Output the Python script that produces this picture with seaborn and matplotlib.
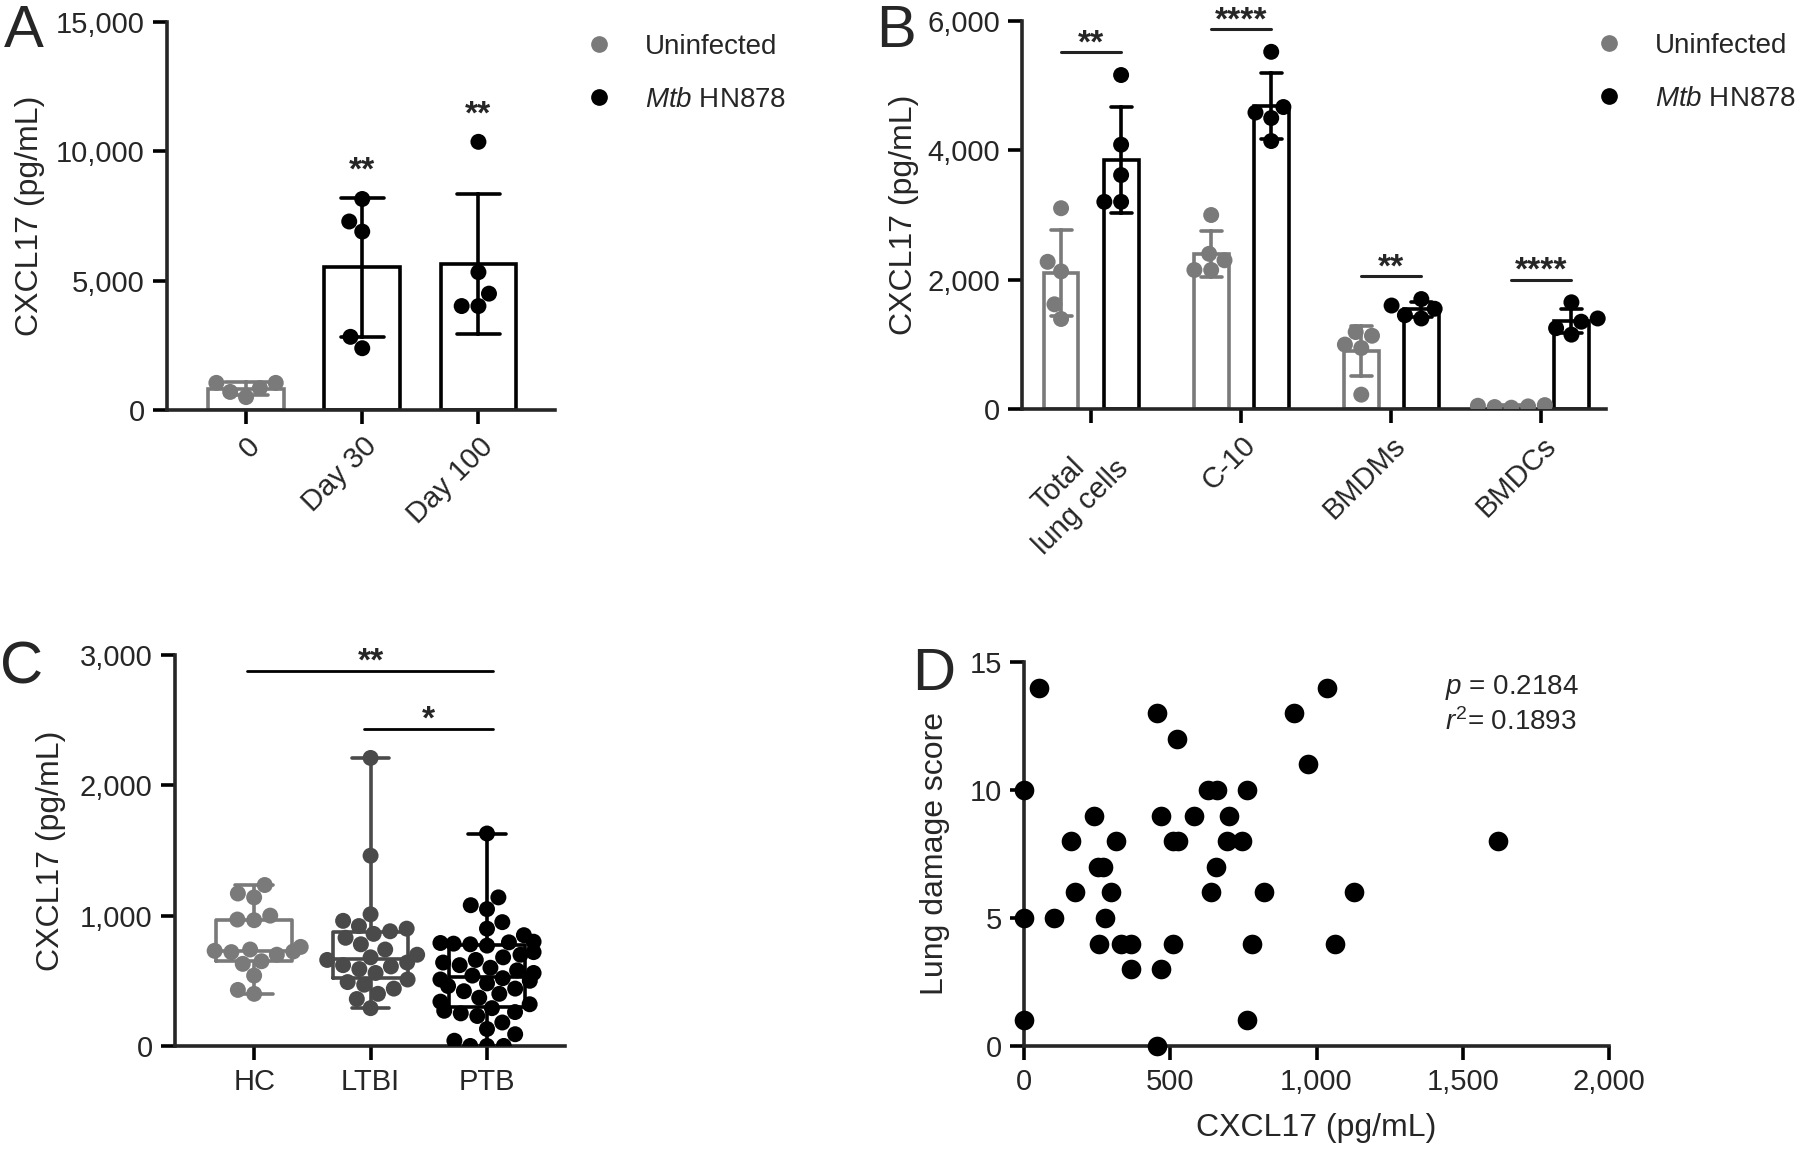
import numpy as np
import pandas as pd
import matplotlib.pyplot as plt
import seaborn as sns
from matplotlib.lines import Line2D
from matplotlib.ticker import StrMethodFormatter

sns.set_style('ticks')
plt.rcParams['font.family'] = ['Liberation Sans', 'DejaVu Sans']
plt.rcParams['mathtext.fontset'] = 'custom'
plt.rcParams['mathtext.rm'] = 'Liberation Sans'
plt.rcParams['mathtext.it'] = 'Liberation Sans:italic'

UNINF = 'Uninfected'
MTB = r'$\it{Mtb}$ HN878'
GREY = '#7a7a7a'

# ---- panel A: CXCL17 in lungs over infection time
a_days = ['0', 'Day 30', 'Day 100']
a_day0 = [700, 1050, 850, 1050, 500]
a_day30 = [8160, 6900, 7290, 2830, 2390]
a_day100 = [10370, 5330, 4500, 4020, 4020]
a_stars = ['', '**', '**']

# ---- panel B: CXCL17 from cell types in vitro
b_cells = ['Total\nlung cells', 'C-10', 'BMDMs', 'BMDCs']
b_total_uninf = [3105, 2128, 2276, 1619, 1392]
b_total_mtb = [5165, 4088, 3618, 3204, 3204]
b_c10_uninf = [3000, 2400, 2300, 2150, 2150]
b_c10_mtb = [5524, 4670, 4585, 4500, 4144]
b_bmdm_uninf = [222, 1133, 996, 943, 1190]
b_bmdm_mtb = [1700, 1600, 1550, 1450, 1400]
b_bmdc_uninf = [30, 50, 60, 40, 20]
b_bmdc_mtb = [1650, 1400, 1350, 1250, 1150]
b_stars = ['**', '****', '**', '****']

# ---- panel C: human plasma CXCL17
c_groups = ['HC', 'LTBI', 'PTB']
c_hc = [1235, 1170, 1140, 1000, 970, 965, 760, 740, 730, 725, 720, 700,
        650, 630, 540, 430, 400]
c_ltbi = [2210, 1460, 1010, 960, 920, 900, 880, 860, 830, 780, 740, 700,
          680, 660, 640, 620, 610, 590, 560, 510, 490, 470, 440, 400, 360, 290]
c_ptb = [0, 0, 0, 40, 90, 130, 180, 230, 250, 260, 270, 290, 320, 340,
         370, 400, 420, 440, 460, 480, 500, 510, 520, 540, 560, 580, 600,
         620, 640, 660, 680, 700, 720, 770, 780, 785, 790, 795, 800, 850,
         900, 950, 1050, 1080, 1140, 1630]

# ---- panel D: CXCL17 vs lung damage
d_cxcl17 = [51, 0, 0, 0, 456, 454, 524, 922, 1035, 970, 630, 660, 762, 238,
            468, 582, 701, 162, 315, 511, 528, 693, 746, 1622, 252, 269, 655,
            174, 298, 638, 820, 1128, 102, 276, 255, 332, 366, 511, 778, 1064,
            366, 468, 761]
d_score = [14, 10, 5, 1, 0, 13, 12, 13, 14, 11, 10, 10, 10, 9, 9, 9, 9, 8, 8,
           8, 8, 8, 8, 8, 7, 7, 7, 6, 6, 6, 6, 6, 5, 5, 4, 4, 4, 4, 4, 4, 3,
           3, 1]

pal_inf = {UNINF: GREY, MTB: 'black'}
pal_c = {'HC': GREY, 'LTBI': '#4a4a4a', 'PTB': 'black'}

LW = 2.6
TICK = 21
LABEL = 23
STAR = dict(ha='center', va='baseline', fontsize=24, fontweight='bold',
            clip_on=False)


def style_axis(ax):
    sns.despine(ax=ax)
    for s in ['left', 'bottom']:
        ax.spines[s].set_linewidth(LW)
    ax.tick_params(length=10, width=LW, labelsize=TICK, pad=6, color='black')


def add_legend(ax, x0, y0):
    handles = [Line2D([], [], marker='o', ls='', color=pal_inf[k], markersize=11)
               for k in [UNINF, MTB]]
    ax.legend(handles, [UNINF, MTB], loc='upper left',
              bbox_to_anchor=(x0 / 1800, 1 - y0 / 1156),
              bbox_transform=fig.transFigure, frameon=False, fontsize=20,
              borderpad=0, borderaxespad=0, handlelength=1.0,
              handletextpad=1.15, labelspacing=0.97)


fig = plt.figure(figsize=(18, 11.56), dpi=100)
ax_a = fig.add_axes([0.0928, 0.6453, 0.2156, 0.3356])
ax_b = fig.add_axes([0.5678, 0.6462, 0.3244, 0.3356])
ax_c = fig.add_axes([0.0972, 0.0952, 0.2167, 0.3382])
ax_d = fig.add_axes([0.5689, 0.0952, 0.3250, 0.3322])

# ---------------- A
df_a = pd.DataFrame({
    'day': ['0'] * len(a_day0) + ['Day 30'] * len(a_day30) + ['Day 100'] * len(a_day100),
    'val': a_day0 + a_day30 + a_day100,
    'grp': [UNINF] * len(a_day0) + [MTB] * (len(a_day30) + len(a_day100)),
})
sns.barplot(df_a, x='day', y='val', hue='grp', hue_order=[UNINF, MTB],
            order=a_days, palette=pal_inf, dodge=False, fill=False,
            errorbar='sd', capsize=0.37, width=0.65, linewidth=LW,
            err_kws={'linewidth': LW}, legend=False, ax=ax_a)
sns.swarmplot(df_a, x='day', y='val', hue='grp', hue_order=[UNINF, MTB],
              order=a_days, palette=pal_inf, size=11.5, legend=False,
              warn_thresh=1, ax=ax_a)
for i, d in enumerate(a_days):
    if a_stars[i]:
        vals = df_a.loc[df_a.day == d, 'val']
        top = max(vals.max(), vals.mean() + vals.std())
        ax_a.text(i, top + 700, a_stars[i], **STAR)
ax_a.set_ylim(0, 15000)
ax_a.set_yticks([0, 5000, 10000, 15000])
ax_a.set_xlim(-0.68, 2.66)
ax_a.yaxis.set_major_formatter(StrMethodFormatter('{x:,.0f}'))
ax_a.set_xlabel('')
ax_a.set_ylabel('CXCL17 (pg/mL)', fontsize=LABEL, labelpad=8)
style_axis(ax_a)
ax_a.set_xticks(range(len(a_days)))
ax_a.set_xticklabels(a_days, rotation=45, ha='right', rotation_mode='anchor')
add_legend(ax_a, 585, 34)

# ---------------- B
b_lists = [(b_total_uninf, b_total_mtb), (b_c10_uninf, b_c10_mtb),
           (b_bmdm_uninf, b_bmdm_mtb), (b_bmdc_uninf, b_bmdc_mtb)]
rows = []
for cell, (u, m) in zip(b_cells, b_lists):
    rows += [(cell, UNINF, v) for v in u] + [(cell, MTB, v) for v in m]
df_b = pd.DataFrame(rows, columns=['cell', 'grp', 'val'])
sns.barplot(df_b, x='cell', y='val', hue='grp', hue_order=[UNINF, MTB],
            order=b_cells, palette=pal_inf, dodge=True, fill=False,
            errorbar='sd', capsize=0.28, width=0.8, gap=0.42, linewidth=LW,
            err_kws={'linewidth': LW}, legend=False, ax=ax_b)
sns.swarmplot(df_b, x='cell', y='val', hue='grp', hue_order=[UNINF, MTB],
              order=b_cells, palette=pal_inf, dodge=True, size=11.5,
              legend=False, warn_thresh=1, ax=ax_b)
for i, (u, m) in enumerate(b_lists):
    yl = max(u + m) + 350
    ax_b.plot([i - 0.2, i + 0.2], [yl, yl], color='#222222', lw=2.2,
              clip_on=False)
    ax_b.text(i, yl, b_stars[i], **STAR)
ax_b.set_ylim(0, 6000)
ax_b.set_yticks([0, 2000, 4000, 6000])
ax_b.set_xlim(-0.46, 3.43)
ax_b.yaxis.set_major_formatter(StrMethodFormatter('{x:,.0f}'))
ax_b.set_xlabel('')
ax_b.set_ylabel('CXCL17 (pg/mL)', fontsize=LABEL, labelpad=6)
style_axis(ax_b)
ax_b.set_xticks(range(len(b_cells)))
ax_b.set_xticklabels(b_cells, rotation=45, ha='right', rotation_mode='anchor',
                     multialignment='center')
add_legend(ax_b, 1595, 33)

# ---------------- C
df_c = pd.DataFrame({
    'grp': ['HC'] * len(c_hc) + ['LTBI'] * len(c_ltbi) + ['PTB'] * len(c_ptb),
    'val': c_hc + c_ltbi + c_ptb,
})
sns.boxplot(df_c, x='grp', y='val', hue='grp', order=c_groups,
            hue_order=c_groups, palette=pal_c, fill=False, width=0.65,
            whis=(0, 100), linewidth=LW, showfliers=False, legend=False,
            ax=ax_c)
sns.swarmplot(df_c, x='grp', y='val', hue='grp', order=c_groups,
              hue_order=c_groups, palette=pal_c, size=11.5, legend=False,
              warn_thresh=1, ax=ax_c)
ctop = df_c.val.max()
for (g1, g2, off, star) in [(0, 2, 670, '**'), (1, 2, 225, '*')]:
    ax_c.plot([g1 - 0.06, g2 + 0.05], [ctop + off] * 2, color='black', lw=2,
              clip_on=False)
    ax_c.text((g1 + g2) / 2, ctop + off, star, **STAR)
ax_c.set_ylim(0, 3000)
ax_c.set_yticks([0, 1000, 2000, 3000])
ax_c.set_xlim(-0.68, 2.67)
ax_c.yaxis.set_major_formatter(StrMethodFormatter('{x:,.0f}'))
ax_c.set_xlabel('')
ax_c.set_ylabel('CXCL17 (pg/mL)', fontsize=LABEL, labelpad=10)
style_axis(ax_c)

# ---------------- D
sns.scatterplot(x=d_cxcl17, y=d_score, color='black', s=200, linewidth=0,
                clip_on=False, zorder=3, ax=ax_d)
ax_d.set_xlim(0, 2000)
ax_d.set_ylim(0, 15)
ax_d.set_xticks([0, 500, 1000, 1500, 2000])
ax_d.set_yticks([0, 5, 10, 15])
ax_d.xaxis.set_major_formatter(StrMethodFormatter('{x:,.0f}'))
ax_d.set_xlabel('CXCL17 (pg/mL)', fontsize=LABEL, labelpad=12)
ax_d.set_ylabel('Lung damage score', fontsize=LABEL, labelpad=14)
style_axis(ax_d)
ax_d.text(1439, 14.0, r'$p$ = 0.2184', fontsize=20, ha='left', va='center')
ax_d.text(1439, 12.66, r'$r^2$= 0.1893', fontsize=20, ha='left', va='center')

# panel letters
for x, y, t in [(0.002, 0.9596, 'A'), (0.487, 0.9596, 'B'),
                (0.0, 0.409, 'C'), (0.507, 0.403, 'D')]:
    fig.text(x, y, t, fontsize=43, ha='left', va='baseline')

fig.savefig('out.png', dpi=100)
